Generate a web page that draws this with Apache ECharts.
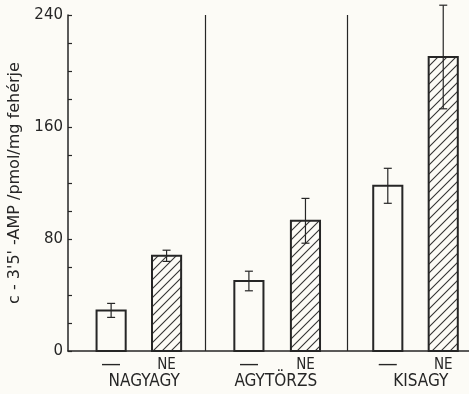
<!DOCTYPE html>
<html>
<head>
<meta charset="utf-8">
<script src="https://cdn.jsdelivr.net/npm/echarts@6/dist/echarts.min.js"></script>
<style>
html,body{margin:0;padding:0;background:#fcfbf6;}
#c{width:469px;height:394px;}
</style>
</head>
<body>
<div id="c"></div>
<script>
// ---- data ----
const groups = ['NAGYAGY', 'AGYTÖRZS', 'KISAGY'];
const groupX = [1.36, 3.71, 6.30];
const treatments = ['—', 'NE', '—', 'NE', '—', 'NE'];
const barX = [0.77, 1.76, 3.23, 4.24, 5.71, 6.70];
const means = [29, 68, 50, 93, 118, 210];
const errors = [5, 4, 7, 16, 12.5, 37];
const hatched = [0, 1, 0, 1, 0, 1];
const dividers = [2.45, 4.98];
const yTicks = [0, 80, 160, 240];

const ink = '#262626';
const bg = '#fcfbf6';
const narrow = '"Liberation Sans Narrow", "DejaVu Sans Condensed", sans-serif';
const wide = '"DejaVu Sans", sans-serif';

// hatch pattern
const pc = document.createElement('canvas');
pc.width = 9; pc.height = 9;
const g = pc.getContext('2d');
g.fillStyle = bg; g.fillRect(0, 0, 9, 9);
g.strokeStyle = '#333'; g.lineWidth = 1.1;
g.beginPath();
g.moveTo(-1, 10); g.lineTo(10, -1);
g.moveTo(-1, 1); g.lineTo(1, -1);
g.moveTo(8, 10); g.lineTo(10, 8);
g.stroke();
const hatchFill = { image: pc, repeat: 'repeat' };

const barData = barX.map((x, i) => [x, means[i], errors[i], hatched[i]]);

const chart = echarts.init(document.getElementById('c'), null, { renderer: 'canvas' });
chart.setOption({
  backgroundColor: bg,
  animation: false,
  grid: { left: 68, right: 0, top: 15, bottom: 43, containLabel: false, outerBoundsMode: 'none' },
  xAxis: {
    type: 'value', min: 0, max: 7.16,
    axisLine: { show: true, lineStyle: { color: ink, width: 1.5 } },
    axisTick: { show: false }, axisLabel: { show: false }, splitLine: { show: false }
  },
  yAxis: {
    type: 'value', min: 0, max: 240, interval: 20,
    name: "c - 3'5' -AMP /pmol/mg fehérje",
    nameLocation: 'middle', nameGap: 45, nameRotate: 90,
    nameTextStyle: { color: ink, fontSize: 16, fontFamily: wide },
    axisLine: { show: true, lineStyle: { color: ink, width: 1.5 } },
    axisTick: { show: true, inside: true, length: 4, lineStyle: { color: ink, width: 1.2 } },
    axisLabel: {
      color: ink, fontSize: 15, fontFamily: wide, margin: 5,
      formatter: v => (yTicks.indexOf(v) >= 0 ? String(v) : '')
    },
    splitLine: { show: false }
  },
  series: [
    {
      type: 'custom',
      clip: false,
      data: barData,
      renderItem: function (params, api) {
        const x = api.value(0), y = api.value(1), e = api.value(2), h = api.value(3);
        const top = api.coord([x, y]);
        const base = api.coord([x, 0]);
        const w = api.size([0.52, 0])[0];
        const eTop = api.coord([x, y + e]);
        const eBot = api.coord([x, y - e]);
        const cap = 4;
        const lab = treatments[params.dataIndex];
        const isDash = lab === '—';
        return {
          type: 'group',
          children: [
            { type: 'rect', shape: { x: top[0] - w / 2, y: top[1], width: w, height: base[1] - top[1] },
              style: { fill: h ? hatchFill : bg, stroke: ink, lineWidth: 2 } },
            { type: 'line', shape: { x1: top[0], y1: eTop[1], x2: top[0], y2: eBot[1] }, style: { stroke: ink, lineWidth: 1.2 } },
            { type: 'line', shape: { x1: top[0] - cap, y1: eTop[1], x2: top[0] + cap, y2: eTop[1] }, style: { stroke: ink, lineWidth: 1.2 } },
            { type: 'line', shape: { x1: top[0] - cap, y1: eBot[1], x2: top[0] + cap, y2: eBot[1] }, style: { stroke: ink, lineWidth: 1.2 } },
            { type: 'text', x: base[0], y: base[1] + 14,
              style: { text: lab, fill: ink, fontSize: isDash ? 20 : 15, fontFamily: isDash ? wide : narrow, align: 'center', verticalAlign: 'middle' } }
          ]
        };
      },
      markLine: {
        silent: true, symbol: 'none', label: { show: false },
        lineStyle: { color: ink, width: 1.2, type: 'solid' },
        data: dividers.map(d => ({ xAxis: d }))
      }
    },
    {
      type: 'custom',
      clip: false,
      data: groupX.map(x => [x, 0]),
      renderItem: function (params, api) {
        const p = api.coord([api.value(0), 0]);
        return { type: 'text', x: p[0], y: p[1] + 31,
          style: { text: groups[params.dataIndex], fill: ink, fontSize: 17, fontFamily: narrow, align: 'center', verticalAlign: 'middle' } };
      }
    }
  ]
});
</script>
</body>
</html>
